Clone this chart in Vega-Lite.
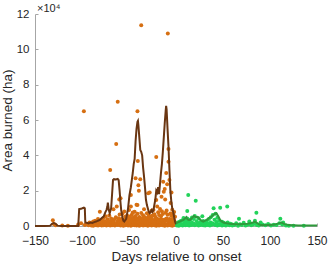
{
  "$schema": "https://vega.github.io/schema/vega-lite/v6.json",
  "width": 282,
  "height": 212,
  "autosize": {"type": "none"},
  "padding": {"left": 35, "top": 14, "right": 11, "bottom": 40},
  "background": "white",
  "title": {"text": "×10⁴", "anchor": "start", "frame": "group", "offset": -6, "dx": 2, "fontSize": 11, "fontWeight": "normal", "font": "Liberation Sans", "color": "#262626"},
  "config": {
    "view": {"stroke": null},
    "font": "Liberation Sans",
    "axis": {"grid": false, "domainColor": "#a6a6a6", "tickColor": "#a6a6a6", "labelColor": "#262626", "titleColor": "#262626", "labelFont": "Liberation Sans", "titleFont": "Liberation Sans", "labelFontSize": 12, "titleFontSize": 13.5, "titleFontWeight": "normal", "tickSize": -3, "labelFlush": false}
  },
  "datasets": {
    "prePts": [
      {"day": -131, "area": 3200}, {"day": -130, "area": 1200}, {"day": -128, "area": 400}, {"day": -121, "area": 300}, {"day": -115, "area": 200},
      {"day": -104, "area": 800}, {"day": -101, "area": 1500}, {"day": -98, "area": 65000}, {"day": -97, "area": 600}, {"day": -95, "area": 1100}, {"day": -93, "area": 400}, {"day": -92, "area": 2000},
      {"day": -90, "area": 300}, {"day": -90, "area": 1800}, {"day": -89, "area": 900}, {"day": -88, "area": 200}, {"day": -88, "area": 2500}, {"day": -87, "area": 600},
      {"day": -86, "area": 1400}, {"day": -86, "area": 3000}, {"day": -85, "area": 400}, {"day": -84, "area": 1000}, {"day": -84, "area": 2200}, {"day": -83, "area": 300}, {"day": -83, "area": 4000},
      {"day": -82, "area": 1600}, {"day": -81, "area": 500}, {"day": -81, "area": 8100}, {"day": -80, "area": 1200}, {"day": -80, "area": 2800}, {"day": -79, "area": 300}, {"day": -79, "area": 3500},
      {"day": -78, "area": 900}, {"day": -78, "area": 1900}, {"day": -77, "area": 400}, {"day": -77, "area": 4500}, {"day": -76, "area": 1300}, {"day": -76, "area": 2600},
      {"day": -75, "area": 700}, {"day": -75, "area": 5500}, {"day": -74, "area": 300}, {"day": -74, "area": 2000}, {"day": -73, "area": 1000}, {"day": -73, "area": 3800},
      {"day": -72, "area": 500}, {"day": -72, "area": 2300}, {"day": -71, "area": 1500}, {"day": -71, "area": 6000}, {"day": -70, "area": 300}, {"day": -70, "area": 2700}, {"day": -70, "area": 31700},
      {"day": -69, "area": 800}, {"day": -69, "area": 4200}, {"day": -68, "area": 400}, {"day": -68, "area": 1800}, {"day": -67, "area": 1100}, {"day": -67, "area": 3300}, {"day": -66.5, "area": 9500},
      {"day": -66, "area": 600}, {"day": -66, "area": 2400}, {"day": -65, "area": 300}, {"day": -65, "area": 3900}, {"day": -64, "area": 900}, {"day": -64, "area": 5000}, {"day": -63.6, "area": 46400},
      {"day": -63, "area": 1400}, {"day": -63, "area": 11000}, {"day": -62, "area": 500}, {"day": -62, "area": 2900}, {"day": -62, "area": 70300}, {"day": -61, "area": 1000}, {"day": -61, "area": 4400}, {"day": -60.4, "area": 15000},
      {"day": -60, "area": 800}, {"day": -60, "area": 3000}, {"day": -60, "area": 6500},
      {"day": -59, "area": 300}, {"day": -59, "area": 2200}, {"day": -59, "area": 15700},
      {"day": -58, "area": 1200}, {"day": -58, "area": 4000},
      {"day": -57, "area": 500}, {"day": -57, "area": 2600}, {"day": -57, "area": 7000},
      {"day": -56, "area": 200}, {"day": -56, "area": 1800}, {"day": -56, "area": 3600},
      {"day": -55, "area": 900}, {"day": -55, "area": 3100}, {"day": -55, "area": 8200},
      {"day": -54, "area": 400}, {"day": -54, "area": 2400}, {"day": -54, "area": 5200},
      {"day": -53, "area": 1500}, {"day": -53, "area": 3800},
      {"day": -52, "area": 600}, {"day": -52, "area": 2000}, {"day": -52, "area": 6000},
      {"day": -51, "area": 300}, {"day": -51, "area": 2900}, {"day": -51, "area": 4600},
      {"day": -50, "area": 1100}, {"day": -50, "area": 3500}, {"day": -50, "area": 9000},
      {"day": -49, "area": 700}, {"day": -49, "area": 2300}, {"day": -49, "area": 5400},
      {"day": -48, "area": 200}, {"day": -48, "area": 4100}, {"day": -48, "area": 11000}, {"day": -48, "area": 17500},
      {"day": -47, "area": 900}, {"day": -47, "area": 2600}, {"day": -47, "area": 6300},
      {"day": -46, "area": 500}, {"day": -46, "area": 3300}, {"day": -46, "area": 7600},
      {"day": -45, "area": 1300}, {"day": -45, "area": 2100}, {"day": -45, "area": 4800},
      {"day": -44, "area": 400}, {"day": -44, "area": 3700}, {"day": -44, "area": 8000},
      {"day": -43, "area": 800}, {"day": -43, "area": 2500}, {"day": -43, "area": 5600}, {"day": -43, "area": 27000},
      {"day": -42, "area": 300}, {"day": -42, "area": 4200}, {"day": -42, "area": 12000},
      {"day": -41, "area": 1000}, {"day": -41, "area": 2800}, {"day": -41, "area": 6900}, {"day": -41, "area": 11900}, {"day": -41, "area": 65000},
      {"day": -40.6, "area": 36800}, {"day": -40, "area": 600}, {"day": -40, "area": 3600}, {"day": -40, "area": 23000}, {"day": -39.5, "area": 20000},
      {"day": -39, "area": 200}, {"day": -39, "area": 2200}, {"day": -39, "area": 5100},
      {"day": -38, "area": 900}, {"day": -38, "area": 3900}, {"day": -38, "area": 26400},
      {"day": -37, "area": 500}, {"day": -37, "area": 2700}, {"day": -37, "area": 7300}, {"day": -37, "area": 113600},
      {"day": -36, "area": 1200}, {"day": -36, "area": 4400},
      {"day": -35, "area": 300}, {"day": -35, "area": 1900}, {"day": -35, "area": 6100},
      {"day": -34, "area": 800}, {"day": -34, "area": 3200}, {"day": -34, "area": 9500},
      {"day": -33, "area": 400}, {"day": -33, "area": 2600}, {"day": -33, "area": 5000},
      {"day": -32, "area": 1100}, {"day": -32, "area": 4000},
      {"day": -31, "area": 600}, {"day": -31, "area": 2300}, {"day": -31, "area": 7200},
      {"day": -30, "area": 200}, {"day": -30, "area": 3400}, {"day": -30, "area": 4700}, {"day": -29.6, "area": 18500},
      {"day": -29, "area": 900}, {"day": -29, "area": 2100}, {"day": -29, "area": 6400},
      {"day": -28, "area": 500}, {"day": -28, "area": 3600}, {"day": -28, "area": 19000},
      {"day": -27, "area": 1300}, {"day": -27, "area": 2800}, {"day": -27, "area": 5300},
      {"day": -26, "area": 300}, {"day": -26, "area": 4300}, {"day": -26, "area": 8600},
      {"day": -25, "area": 700}, {"day": -25, "area": 2400}, {"day": -25, "area": 5900},
      {"day": -24, "area": 1000}, {"day": -24, "area": 3300}, {"day": -24, "area": 9000},
      {"day": -23, "area": 400}, {"day": -23, "area": 2000}, {"day": -23, "area": 6700},
      {"day": -22, "area": 800}, {"day": -22, "area": 3800}, {"day": -22, "area": 5200},
      {"day": -21, "area": 200}, {"day": -21, "area": 2700}, {"day": -21, "area": 14700}, {"day": -21, "area": 39000},
      {"day": -20, "area": 1200}, {"day": -20, "area": 4100}, {"day": -20, "area": 11000},
      {"day": -19, "area": 600}, {"day": -19, "area": 2300}, {"day": -19, "area": 7800},
      {"day": -18, "area": 300}, {"day": -18, "area": 3500}, {"day": -18, "area": 6200},
      {"day": -17, "area": 900}, {"day": -17, "area": 2600}, {"day": -17, "area": 9600},
      {"day": -16, "area": 500}, {"day": -16, "area": 4000}, {"day": -16, "area": 5500}, {"day": -15.4, "area": 16600},
      {"day": -15, "area": 1100}, {"day": -15, "area": 2900}, {"day": -15, "area": 8300},
      {"day": -14, "area": 400}, {"day": -14, "area": 3400}, {"day": -14, "area": 6800}, {"day": -13.6, "area": 25000},
      {"day": -13, "area": 800}, {"day": -13, "area": 2200}, {"day": -13, "area": 19400},
      {"day": -12, "area": 200}, {"day": -12, "area": 3700}, {"day": -12, "area": 21000}, {"day": -11.5, "area": 15000},
      {"day": -11, "area": 1000}, {"day": -11, "area": 2800}, {"day": -11, "area": 7500}, {"day": -10.4, "area": 30000},
      {"day": -10, "area": 600}, {"day": -10, "area": 4200}, {"day": -10, "area": 8800}, {"day": -9.4, "area": 23600},
      {"day": -9, "area": 300}, {"day": -9, "area": 3100}, {"day": -9, "area": 6400}, {"day": -8.7, "area": 109000},
      {"day": -8, "area": 1300}, {"day": -8, "area": 2500}, {"day": -8, "area": 43600}, {"day": -8, "area": 36400},
      {"day": -7, "area": 700}, {"day": -7, "area": 3900}, {"day": -7, "area": 26000},
      {"day": -6, "area": 400}, {"day": -6, "area": 2400}, {"day": -6, "area": 7100}, {"day": -5.7, "area": 13000},
      {"day": -5, "area": 900}, {"day": -5, "area": 3500}, {"day": -5, "area": 5800}, {"day": -4.8, "area": 19000},
      {"day": -4, "area": 200}, {"day": -4, "area": 2700}, {"day": -4, "area": 9200},
      {"day": -3, "area": 1100}, {"day": -3, "area": 4500}, {"day": -3, "area": 6600},
      {"day": -2, "area": 500}, {"day": -2, "area": 3000}, {"day": -2, "area": 7900},
      {"day": -1, "area": 800}, {"day": -1, "area": 2100}, {"day": -1, "area": 5300}, {"day": -0.5, "area": 1500}
    ],
    "postPts": [
      {"day": 13, "area": 17500}, {"day": 21, "area": 14300}, {"day": 12, "area": 8500}, {"day": 40, "area": 10000}, {"day": 47, "area": 10400}, {"day": 54.5, "area": 11000},
      {"day": 67, "area": 4100}, {"day": 85.5, "area": 7500}, {"day": 90, "area": 2000}, {"day": 111, "area": 4100}, {"day": 114, "area": 2000}, {"day": 28, "area": 5500}, {"day": 136, "area": 200},
      {"day": 1, "area": 300}, {"day": 1, "area": 1500}, {"day": 2, "area": 800}, {"day": 3, "area": 200}, {"day": 3, "area": 2200}, {"day": 4, "area": 1000},
      {"day": 5, "area": 500}, {"day": 5, "area": 2800}, {"day": 6, "area": 1200}, {"day": 7, "area": 300}, {"day": 7, "area": 3300}, {"day": 8, "area": 900}, {"day": 8, "area": 4500},
      {"day": 9, "area": 1800}, {"day": 10, "area": 400}, {"day": 10, "area": 3000}, {"day": 11, "area": 1400}, {"day": 12, "area": 600}, {"day": 12, "area": 4200}, {"day": 13, "area": 2500},
      {"day": 14, "area": 300}, {"day": 14, "area": 1700}, {"day": 15, "area": 1100}, {"day": 15, "area": 3600}, {"day": 16, "area": 500}, {"day": 17, "area": 2000}, {"day": 17, "area": 4800},
      {"day": 18, "area": 700}, {"day": 19, "area": 1300}, {"day": 19, "area": 3900}, {"day": 20, "area": 400}, {"day": 20, "area": 5600}, {"day": 22, "area": 900}, {"day": 22, "area": 2700},
      {"day": 23, "area": 1500}, {"day": 24, "area": 300}, {"day": 24, "area": 4400}, {"day": 25, "area": 1100}, {"day": 26, "area": 600}, {"day": 26, "area": 2300}, {"day": 27, "area": 1800},
      {"day": 29, "area": 400}, {"day": 29, "area": 2900}, {"day": 30, "area": 1000}, {"day": 31, "area": 300}, {"day": 31, "area": 1900}, {"day": 32, "area": 800}, {"day": 33, "area": 1500},
      {"day": 33, "area": 3100}, {"day": 34, "area": 500}, {"day": 35, "area": 1200}, {"day": 35, "area": 4000}, {"day": 36, "area": 300}, {"day": 37, "area": 2000}, {"day": 37, "area": 5000},
      {"day": 38, "area": 700}, {"day": 39, "area": 1400}, {"day": 39, "area": 6200}, {"day": 41, "area": 900}, {"day": 41, "area": 3600}, {"day": 42, "area": 500}, {"day": 42, "area": 7000},
      {"day": 43, "area": 2200}, {"day": 44, "area": 300}, {"day": 44, "area": 4700}, {"day": 45, "area": 1000}, {"day": 46, "area": 600}, {"day": 46, "area": 3000}, {"day": 48, "area": 1600},
      {"day": 49, "area": 300}, {"day": 49, "area": 2400}, {"day": 50, "area": 900}, {"day": 51, "area": 500}, {"day": 51, "area": 1800}, {"day": 52, "area": 1200}, {"day": 53, "area": 300},
      {"day": 55, "area": 800}, {"day": 55, "area": 2000}, {"day": 57, "area": 400}, {"day": 58, "area": 1300}, {"day": 60, "area": 300}, {"day": 60, "area": 900}, {"day": 62, "area": 600},
      {"day": 64, "area": 1500}, {"day": 66, "area": 200}, {"day": 68, "area": 1000}, {"day": 70, "area": 500}, {"day": 72, "area": 1800}, {"day": 74, "area": 300}, {"day": 76, "area": 700},
      {"day": 78, "area": 1200}, {"day": 78, "area": 2500}, {"day": 80, "area": 400}, {"day": 82, "area": 900}, {"day": 84, "area": 1500}, {"day": 84, "area": 3000}, {"day": 86, "area": 600},
      {"day": 88, "area": 300}, {"day": 92, "area": 800}, {"day": 95, "area": 400}, {"day": 98, "area": 1100}, {"day": 101, "area": 300}, {"day": 104, "area": 700}, {"day": 107, "area": 500},
      {"day": 110, "area": 1500}, {"day": 113, "area": 900}, {"day": 117, "area": 300}, {"day": 120, "area": 200}, {"day": 125, "area": 100}
    ],
    "preLine": [
      {"day": -150, "area": 0}, {"day": -140, "area": 0}, {"day": -134, "area": 100}, {"day": -132, "area": 1200}, {"day": -130, "area": 1600}, {"day": -128, "area": 1200},
      {"day": -126, "area": 200}, {"day": -122, "area": 0}, {"day": -112, "area": 0}, {"day": -104, "area": 0}, {"day": -103, "area": 9600}, {"day": -101, "area": 9700},
      {"day": -99, "area": 10200}, {"day": -98, "area": 10400}, {"day": -97, "area": 10000}, {"day": -96.5, "area": 2000}, {"day": -95, "area": 1800}, {"day": -93, "area": 1500},
      {"day": -91, "area": 2000}, {"day": -89, "area": 1700}, {"day": -87, "area": 2200}, {"day": -85, "area": 2500}, {"day": -83, "area": 3000}, {"day": -81, "area": 3400},
      {"day": -79, "area": 4500}, {"day": -77, "area": 5300}, {"day": -75, "area": 8000}, {"day": -74, "area": 9000}, {"day": -73, "area": 11000}, {"day": -72.5, "area": 13200},
      {"day": -71.5, "area": 9000}, {"day": -70.5, "area": 7300}, {"day": -69, "area": 10000}, {"day": -68, "area": 18000}, {"day": -67, "area": 26000}, {"day": -66, "area": 26500},
      {"day": -64, "area": 26300}, {"day": -62, "area": 26600}, {"day": -61, "area": 26000}, {"day": -60, "area": 20000}, {"day": -59, "area": 13000}, {"day": -58.3, "area": 9000},
      {"day": -57, "area": 5000}, {"day": -56, "area": 3000}, {"day": -55, "area": 2500}, {"day": -53, "area": 4000}, {"day": -51, "area": 10000}, {"day": -49.5, "area": 17500},
      {"day": -48, "area": 22000}, {"day": -46, "area": 30000}, {"day": -45, "area": 35000}, {"day": -44, "area": 38000}, {"day": -43, "area": 48000}, {"day": -42, "area": 55000},
      {"day": -41, "area": 59000}, {"day": -40.5, "area": 59500}, {"day": -40, "area": 57000}, {"day": -39, "area": 50000}, {"day": -38, "area": 43000}, {"day": -37, "area": 42000},
      {"day": -36, "area": 40000}, {"day": -35, "area": 33000}, {"day": -34, "area": 28000}, {"day": -33, "area": 22000}, {"day": -32, "area": 15000}, {"day": -31, "area": 12000},
      {"day": -30, "area": 10000}, {"day": -29, "area": 8000}, {"day": -28, "area": 7300}, {"day": -27, "area": 8000}, {"day": -26, "area": 9000}, {"day": -25, "area": 8000},
      {"day": -24, "area": 9000}, {"day": -22, "area": 15000}, {"day": -21, "area": 20000}, {"day": -20, "area": 19000}, {"day": -19, "area": 22000}, {"day": -18, "area": 18000},
      {"day": -17, "area": 24000}, {"day": -16, "area": 30000}, {"day": -15, "area": 35000}, {"day": -14, "area": 42000}, {"day": -13, "area": 50000}, {"day": -12, "area": 58000},
      {"day": -11, "area": 65000}, {"day": -10.5, "area": 68000}, {"day": -10, "area": 66000}, {"day": -9, "area": 55000}, {"day": -8, "area": 45000}, {"day": -7, "area": 32000},
      {"day": -6, "area": 20000}, {"day": -5, "area": 14000}, {"day": -4, "area": 10000}, {"day": -3, "area": 8000}, {"day": -2, "area": 5000}, {"day": -1, "area": 2500}, {"day": 0, "area": 1000}
    ],
    "postLine": [
      {"day": 0, "area": 1500}, {"day": 2, "area": 2000}, {"day": 4, "area": 2500}, {"day": 6, "area": 3000}, {"day": 8, "area": 3500}, {"day": 10, "area": 4500},
      {"day": 11, "area": 5000}, {"day": 12, "area": 4000}, {"day": 13, "area": 3500}, {"day": 15, "area": 3400}, {"day": 17, "area": 4500}, {"day": 19, "area": 5700},
      {"day": 21, "area": 5000}, {"day": 23, "area": 5200}, {"day": 25, "area": 4000}, {"day": 27, "area": 3000}, {"day": 29, "area": 2500}, {"day": 31, "area": 3000},
      {"day": 33, "area": 3500}, {"day": 35, "area": 4500}, {"day": 37, "area": 5000}, {"day": 39, "area": 6000}, {"day": 41, "area": 6800}, {"day": 43, "area": 7200},
      {"day": 45, "area": 5500}, {"day": 47, "area": 3400}, {"day": 49, "area": 2500}, {"day": 51, "area": 1800}, {"day": 54, "area": 1500}, {"day": 57, "area": 1300},
      {"day": 60, "area": 1200}, {"day": 64, "area": 1000}, {"day": 68, "area": 1000}, {"day": 72, "area": 1200}, {"day": 76, "area": 1300}, {"day": 79, "area": 1500},
      {"day": 82, "area": 2000}, {"day": 84, "area": 2500}, {"day": 86, "area": 1800}, {"day": 88, "area": 1000}, {"day": 90, "area": 500}, {"day": 95, "area": 500},
      {"day": 100, "area": 600}, {"day": 105, "area": 800}, {"day": 109, "area": 1500}, {"day": 112, "area": 2000}, {"day": 115, "area": 1200}, {"day": 120, "area": 500},
      {"day": 130, "area": 300}, {"day": 140, "area": 300}, {"day": 150, "area": 300}
    ]
  },
  "encoding": {
    "x": {"field": "day", "type": "quantitative", "scale": {"domain": [-150, 150], "nice": false},
      "axis": {"values": [-150, -100, -50, 0, 50, 100, 150], "title": "Days relative to onset", "labelExpr": "replace(format(datum.value,'d'),'-','−')", "labelPadding": 12, "titlePadding": 3}},
    "y": {"field": "area", "type": "quantitative", "scale": {"domain": [0, 120000], "nice": false},
      "axis": {"values": [0, 20000, 40000, 60000, 80000, 100000, 120000], "title": "Area burned (ha)", "labelExpr": "format(datum.value/10000,'d')", "labelPadding": 9, "titlePadding": 1.5, "labelFontSize": 11.5}}
  },
  "layer": [
    {"data": {"name": "prePts"}, "mark": {"type": "circle", "size": 16, "color": "#d66f12", "opacity": 1}},
    {"data": {"name": "postPts"}, "mark": {"type": "circle", "size": 16, "color": "#22d35a", "opacity": 1}},
    {"data": {"name": "preLine"}, "mark": {"type": "line", "color": "#6a3612", "strokeWidth": 2}},
    {"data": {"name": "postLine"}, "mark": {"type": "line", "color": "#2f9a3c", "strokeWidth": 2}},
    {"mark": {"type": "rule", "color": "#000000", "strokeWidth": 1}, "encoding": {"x": {"datum": 0}, "y": null}}
  ]
}
